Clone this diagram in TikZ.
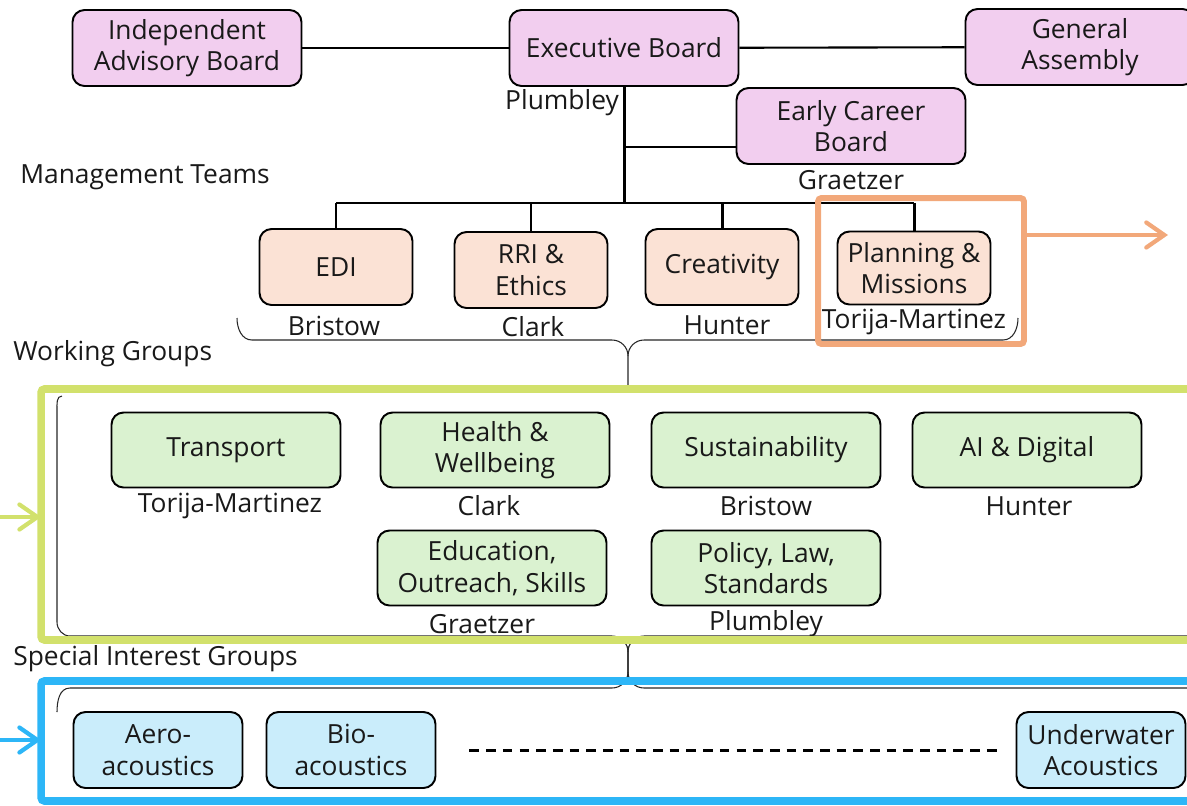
\documentclass[tikz,border=0pt]{standalone}
\usepackage{fontspec}
\setmainfont{Open Sans}
\usetikzlibrary{arrows.meta}
\definecolor{boardpink}{RGB}{242,206,239}
\definecolor{teampeach}{RGB}{251,226,213}
\definecolor{groupgreen}{RGB}{218,242,208}
\definecolor{sigblue}{RGB}{202,237,251}
\definecolor{teamframe}{RGB}{242,168,122}
\definecolor{groupframe}{RGB}{210,225,108}
\definecolor{sigframe}{RGB}{45,182,247}
\tikzset{
        unit/.style={draw=black, line width=1.1pt, rounded corners=0.24cm, align=center,
                inner sep=0pt, text=black!90, font=\fontsize{15}{18}\selectfont},
        board/.style={unit, fill=boardpink, minimum width=4.58cm, minimum height=1.52cm},
        team/.style={unit, fill=teampeach, minimum width=3.06cm, minimum height=1.52cm},
        group/.style={unit, fill=groupgreen, minimum width=4.58cm, minimum height=1.5cm},
        sig/.style={unit, fill=sigblue, minimum width=3.38cm, minimum height=1.52cm},
        lead/.style={inner sep=0pt, text=black!90, font=\fontsize{15}{18}\selectfont},
        heading/.style={lead, anchor=west},
        link/.style={line width=1.7pt},
        bracket/.style={line width=0.6pt, black!85},
        frame/.style={inner sep=0pt, outer sep=0pt, rounded corners=2pt},
        pointer/.style={line width=2.4pt, line cap=round,
                -{Straight Barb[length=0.36cm, width=0.5cm, line cap=round]}},
        ellipsis/.style={line width=1.7pt, dash pattern=on 5.5pt off 4pt}
}
\begin{document}
\begin{tikzpicture}[x=0.02cm, y=-0.02cm]
        \useasboundingbox (0,0) rectangle (1187,805);
        \clip (0,0) rectangle (1187,805);

        \node[board] (iab) at (187,48) {Independent\\Advisory Board};
        \node[board] (exec) at (624,48) {Executive Board};
        \node[board] (ga) at (1080,47) {General\\Assembly};
        \node[board] (ecb) at (851,126) {Early Career\\Board};
        \node[lead] (exec-lead) at (562,103) {Plumbley};
        \node[lead] (ecb-lead) at (851,180) {Graetzer};

        \node[heading] (mt-head) at (20,177) {Management Teams};
        \node[heading] (wg-head) at (13,354) {Working Groups};
        \node[heading] (sig-head) at (13,659) {Special Interest Groups};

        \node[team] (edi) at (336,267) {EDI};
        \node[team] (rri) at (531,270) {RRI \&\\Ethics};
        \node[team] (creat) at (722,267) {Creativity};
        \node[team, minimum height=1.46cm] (plan) at (914,268) {Planning \&\\Missions};
        \node[lead] (edi-lead) at (334,326) {Bristow};
        \node[lead] (rri-lead) at (533,327) {Clark};
        \node[lead] (creat-lead) at (727,325) {Hunter};
        \node[lead] (plan-lead) at (914,322) {Torija-Martinez};

        \node[group] (transport) at (226,450) {Transport};
        \node[group] (health) at (495,450) {Health \&\\Wellbeing};
        \node[group] (sustain) at (766,450) {Sustainability};
        \node[group] (ai) at (1027,450) {AI \& Digital};
        \node[group] (edu) at (492,568) {Education,\\Outreach, Skills};
        \node[group] (policy) at (766,568) {Policy, Law,\\Standards};
        \node[lead] (transport-lead) at (230,506) {Torija-Martinez};
        \node[lead] (health-lead) at (489,506) {Clark};
        \node[lead] (sustain-lead) at (766,506) {Bristow};
        \node[lead] (ai-lead) at (1029,506) {Hunter};
        \node[lead] (edu-lead) at (482,624) {Graetzer};
        \node[lead] (policy-lead) at (766,624) {Plumbley};

        \node[sig] (aero) at (158,750) {Aero-\\acoustics};
        \node[sig] (bio) at (351,750) {Bio-\\acoustics};
        \node[sig] (uw) at (1101,750) {Underwater\\Acoustics};

        \draw[link] (iab) -- (exec);
        \draw[line width=1.2pt] (exec) -- (ga);
        \coordinate (ecb-join) at (624,147);
        \coordinate (mt-bus) at (624,203);
        \draw[link] (exec.south) -- (mt-bus);
        \draw[link] (ecb-join) -- (ecb-join -| ecb.west);
        \draw[link] (edi.north |- mt-bus) -- (plan.north |- mt-bus);
        \draw[link] (edi.north |- mt-bus) -- (edi.north);
        \draw[link] (rri.north |- mt-bus) -- (rri.north);
        \draw[link] (creat.north |- mt-bus) -- (creat.north);
        \draw[link] (plan.north |- mt-bus) -- (plan.north);
        \draw[ellipsis] ([xshift=0.66cm]bio.east) -- ([xshift=-0.32cm]uw.west);

        \draw[bracket] (237,318) to[out=-90, in=180] (252,340) -- (612,340)
                to[out=0, in=90] (628,356) -- (628,386);
        \draw[bracket] (628,356) to[out=90, in=180] (644,340) -- (1003,340)
                to[out=0, in=-90] (1018,318);
        \draw[bracket] (62,396) to[out=180, in=90] (57,410) -- (57,622)
                to[out=-90, in=180] (70,636) -- (612,636) to[out=0, in=90] (628,652) -- (628,684);
        \draw[bracket] (628,652) to[out=90, in=180] (644,636) -- (1200,636);
        \draw[bracket] (57,712) to[out=90, in=180] (70,688) -- (612,688)
                to[out=0, in=-90] (628,672) -- (628,646);
        \draw[bracket] (628,672) to[out=-90, in=180] (644,688) -- (1200,688);

        \node[frame, draw=teamframe, line width=3.4pt, minimum width=4.12cm, minimum height=2.92cm]
                (plan-frame) at (921,271) {};
        \node[frame, draw=groupframe, line width=4.4pt, minimum width=23.18cm, minimum height=5.02cm]
                (wg-frame) at (620.5,514.5) {};
        \node[frame, draw=sigframe, line width=4.4pt, minimum width=23.18cm, minimum height=2.4cm]
                (sig-frame) at (620.5,741) {};

        \coordinate (plan-out) at (1168,235);
        \coordinate (wg-in) at (0,517);
        \coordinate (sig-in) at (0,740);
        \draw[pointer, teamframe] (plan-frame.east |- plan-out) -- (plan-out);
        \draw[pointer, groupframe] (wg-in) -- (wg-in -| wg-frame.west);
        \draw[pointer, sigframe] (sig-in) -- (sig-in -| sig-frame.west);
\end{tikzpicture}
\end{document}
